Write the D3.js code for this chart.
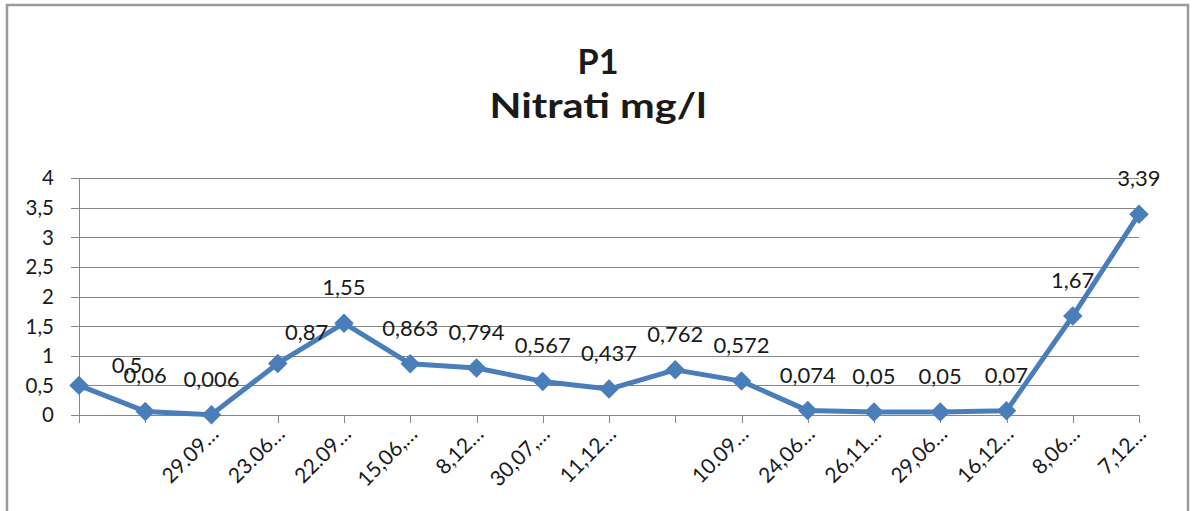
<!DOCTYPE html>
<html>
<head>
<meta charset="utf-8">
<script src="https://cdn.jsdelivr.net/npm/d3@7"></script>
<style>
  body { margin: 0; background: #fff; }
  text { font-family: Lato, "Open Sans", sans-serif; fill: #1a1a1a; }
</style>
</head>
<body>
<svg id="chart"></svg>
<script>
const width = 1192;
const height = 511;

// data
const dates = ["", "", "29.09…", "23.06…", "22.09…", "15,06,…", "8,12…", "30,07,…",
  "11,12…", "", "10.09…", "24,06…", "26,11…", "29,06…", "16,12…", "8,06…", "7,12…"];
const values = [0.5, 0.06, 0.006, 0.87, 1.55, 0.863, 0.794, 0.567, 0.437, 0.762, 0.572,
  0.074, 0.05, 0.05, 0.07, 1.67, 3.39];
const valueLabels = ["0,5", "0,06", "0,006", "0,87", "1,55", "0,863", "0,794", "0,567", "0,437",
  "0,762", "0,572", "0,074", "0,05", "0,05", "0,07", "1,67", "3,39"];
const yTicks = [0, 0.5, 1, 1.5, 2, 2.5, 3, 3.5, 4];
const titleLines = ["P1", "Nitrati mg/l"];

const plot = {left: 79, right: 1139, top: 178, bottom: 415};
const blue = "#4a7ebb";
const gridColor = "#868686";

const svg = d3.select("#chart")
  .attr("width", width)
  .attr("height", height)
  .attr("viewBox", [0, 0, width, height]);

// outer chart frame (bottom edge is off-picture)
svg.append("rect")
  .attr("x", 7).attr("y", 5)
  .attr("width", 1181).attr("height", 540)
  .attr("fill", "#fff")
  .attr("stroke", "#9b9b9b")
  .attr("stroke-width", 2.5);

const x = d3.scalePoint()
  .domain(d3.range(values.length))
  .range([plot.left, plot.right]);

const y = d3.scaleLinear()
  .domain([0, 4])
  .range([plot.bottom, plot.top]);

// title - the original is a bit stretched sideways
svg.append("g")
  .selectAll("text")
  .data(titleLines)
  .join("text")
    .attr("x", 598)
    .attr("y", (d, i) => 74 + i * 44)
    .attr("text-anchor", "middle")
    .attr("font-weight", "bold")
    .attr("font-size", 35)
    .attr("textLength", (d, i) => i === 0 ? 41 : 217)
    .attr("lengthAdjust", "spacingAndGlyphs")
    .text(d => d);

// horizontal grid + y ticks
svg.append("g")
  .selectAll("line")
  .data(yTicks)
  .join("line")
    .attr("x1", plot.left - 8)
    .attr("x2", plot.right)
    .attr("y1", d => Math.round(y(d)) + 0.5)
    .attr("y2", d => Math.round(y(d)) + 0.5)
    .attr("stroke", gridColor)
    .attr("stroke-width", 1);

svg.append("g")
  .selectAll("text")
  .data(yTicks)
  .join("text")
    .attr("x", 54)
    .attr("y", d => y(d))
    .attr("dy", "0.36em")
    .attr("text-anchor", "end")
    .attr("font-size", 20.5)
    .text(d => d3.format("")(d).replace(".", ","));

// y axis line
svg.append("line")
  .attr("x1", plot.left + 0.5).attr("x2", plot.left + 0.5)
  .attr("y1", plot.top).attr("y2", plot.bottom)
  .attr("stroke", gridColor);

// x tick marks
svg.append("g")
  .selectAll("line")
  .data(x.domain())
  .join("line")
    .attr("x1", d => Math.round(x(d)) + 0.5)
    .attr("x2", d => Math.round(x(d)) + 0.5)
    .attr("y1", plot.bottom)
    .attr("y2", plot.bottom + 8)
    .attr("stroke", gridColor);

// rotated category labels
svg.append("g")
  .selectAll("text")
  .data(x.domain().filter(i => dates[i] !== ""))
  .join("text")
    .attr("transform", d => `translate(${x(d) + 3},${plot.bottom + 15}) rotate(-45)`)
    .attr("text-anchor", "end")
    .attr("dy", "0.36em")
    .attr("font-size", 21)
    .text(d => dates[d]);

// series line
const line = d3.line()
  .x((d, i) => x(i))
  .y(d => y(d));

svg.append("path")
  .datum(values)
  .attr("d", line)
  .attr("fill", "none")
  .attr("stroke", blue)
  .attr("stroke-width", 5)
  .attr("stroke-linejoin", "round");

// diamond markers (squares turned 45deg)
svg.append("g")
  .selectAll("path")
  .data(values)
  .join("path")
    .attr("transform", (d, i) => `translate(${x(i)},${y(d)}) rotate(45)`)
    .attr("d", d3.symbol().type(d3.symbolSquare).size(190))
    .attr("fill", blue);

// data labels, a couple were nudged sideways in the original
const labelShift = {0: [48, 16], 3: [29, 5]};
svg.append("g")
  .selectAll("text")
  .data(values)
  .join("text")
    .attr("x", (d, i) => x(i) + (labelShift[i] ? labelShift[i][0] : 0))
    .attr("y", (d, i) => y(d) - 28 + (labelShift[i] ? labelShift[i][1] : 0))
    .attr("text-anchor", "middle")
    .attr("font-size", 22)
    .text((d, i) => valueLabels[i]);
</script>
</body>
</html>
